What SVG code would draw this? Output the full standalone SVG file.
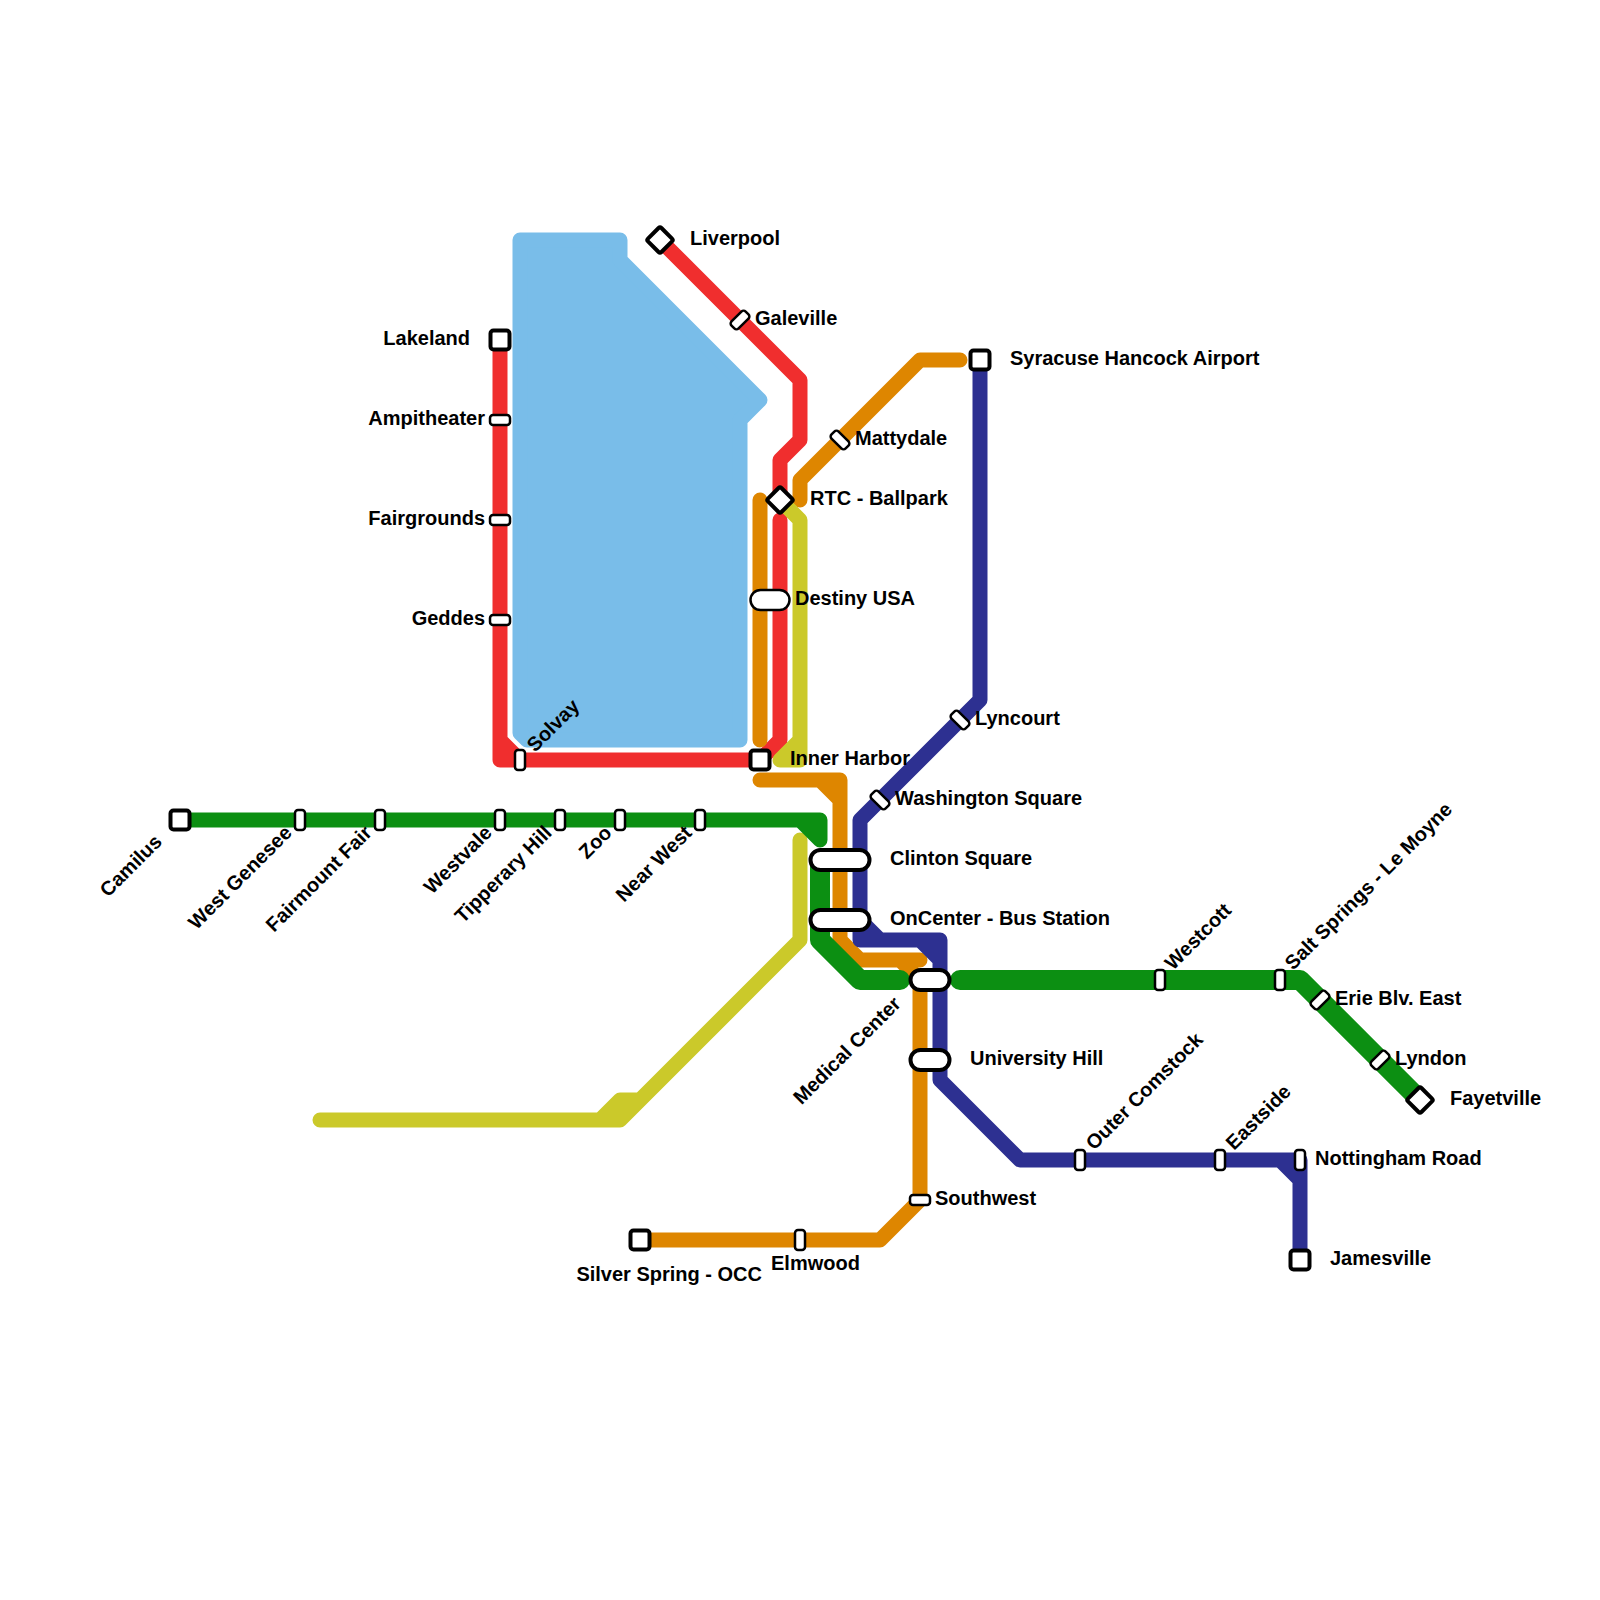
<svg xmlns="http://www.w3.org/2000/svg" width="1600" height="1600" viewBox="0 0 1600 1600">
<style>
.l{fill:none;stroke-width:15;stroke-linecap:round;stroke-linejoin:round}
.w{stroke-width:20}
.lake{fill:#79bde9;stroke:#79bde9}
.red{stroke:#f02e2e}.org{stroke:#de8600}.yel{stroke:#cbc92a}.grn{stroke:#0c8f12}.blu{stroke:#2d3091}
.t{fill:#fff;stroke:#000;stroke-width:2.5}
.s{fill:#fff;stroke:#000;stroke-width:4}
.p{fill:#fff;stroke:#000;stroke-width:2.5}
text{font-family:"Liberation Sans",Arial,sans-serif;font-weight:700;font-size:20px;fill:#000}
.e{text-anchor:end}
</style>
<rect width="1600" height="1600" fill="#fff"/>
<g id="connectors">
<path id="lake" class="l lake" d="M520 240H620V260L760 400L740 420V740H527L520 733Z"/>
<path class="l red" d="M500 340V760H760M500 740L520 760"/>
<path class="l red" d="M660 240L800 380V440L780 460V500M780 520V740L760 760"/>
<path class="l org" d="M760 500V740M760 780H840V940L860 960H920L900 960L920 980V1200L880 1240H640M820 780L840 800M800 500V480L920 360H960"/>
<path class="l yel" d="M780 500L800 520V740L780 760H800V740M800 840V940L620 1120H320M600 1120L620 1100H640L620 1120"/>
<path class="l grn" d="M180 820H820V840L800 820"/>
<path class="l w grn" d="M820 860V940L860 980H900M960 980H1300L1420 1100"/>
<path class="l blu" d="M980 360V700L860 820V940H940V1080L1020 1160H1300V1260M860 920L880 940M920 940L940 960M1280 1160L1300 1180"/>
</g>
<g id="n-camilus"><rect class="s" x="170.500" y="810.500" width="19" height="19" rx="3"/><text class="e" transform="translate(163 843) rotate(-45)">Camilus</text></g>
<g id="n-west-genesee"><rect class="t" x="295" y="810" width="10" height="20" rx="3"/><text class="e" transform="translate(293 834) rotate(-45)">West Genesee</text></g>
<g id="n-fairmount-fair"><rect class="t" x="375" y="810" width="10" height="20" rx="3"/><text class="e" transform="translate(373 834) rotate(-45)">Fairmount Fair</text></g>
<g id="n-westvale"><rect class="t" x="495" y="810" width="10" height="20" rx="3"/><text class="e" transform="translate(493 834) rotate(-45)">Westvale</text></g>
<g id="n-tipperary-hill"><rect class="t" x="555" y="810" width="10" height="20" rx="3"/><text class="e" transform="translate(553 834) rotate(-45)">Tipperary Hill</text></g>
<g id="n-zoo"><rect class="t" x="615" y="810" width="10" height="20" rx="3"/><text class="e" transform="translate(613 834) rotate(-45)">Zoo</text></g>
<g id="n-near-west"><rect class="t" x="695" y="810" width="10" height="20" rx="3"/><text class="e" transform="translate(693 834) rotate(-45)">Near West</text></g>
<g id="n-lakeland"><rect class="s" x="490.500" y="330.500" width="19" height="19" rx="3"/><text class="e" x="470" y="345">Lakeland</text></g>
<g id="n-ampitheater"><rect class="t" x="490" y="415" width="20" height="10" rx="3"/><text class="e" x="485" y="425">Ampitheater</text></g>
<g id="n-fairgrounds"><rect class="t" x="490" y="515" width="20" height="10" rx="3"/><text class="e" x="485" y="525">Fairgrounds</text></g>
<g id="n-geddes"><rect class="t" x="490" y="615" width="20" height="10" rx="3"/><text class="e" x="485" y="625">Geddes</text></g>
<g id="n-solvay"><rect class="t" x="515" y="750" width="10" height="20" rx="3"/><text transform="translate(535 753) rotate(-45)">Solvay</text></g>
<g id="n-liverpool"><rect class="s" x="650.500" y="230.500" width="19" height="19" rx="2" transform="rotate(45 660 240)"/><text x="690" y="245">Liverpool</text></g>
<g id="n-galeville"><rect class="t" x="735" y="310" width="10" height="20" rx="3" transform="rotate(45 740 320)"/><text x="755" y="325">Galeville</text></g>
<g id="n-mattydale"><rect class="t" x="835" y="430" width="10" height="20" rx="3" transform="rotate(-45 840 440)"/><text x="855" y="445">Mattydale</text></g>
<g id="n-rtc"><rect class="s" x="770.500" y="490.500" width="19" height="19" rx="2" transform="rotate(45 780 500)"/><text x="810" y="505">RTC - Ballpark</text></g>
<g id="n-destiny"><rect class="p" x="750.500" y="590" width="39" height="20" rx="10"/><text x="795" y="605">Destiny USA</text></g>
<g id="n-inner-harbor"><rect class="s" x="750.500" y="750.500" width="19" height="19" rx="3"/><text x="790" y="765">Inner Harbor</text></g>
<g id="n-washington"><rect class="t" x="875" y="790" width="10" height="20" rx="3" transform="rotate(-45 880 800)"/><text x="895" y="805">Washington Square</text></g>
<g id="n-lyncourt"><rect class="t" x="955" y="710" width="10" height="20" rx="3" transform="rotate(-45 960 720)"/><text x="975" y="725">Lyncourt</text></g>
<g id="n-syracuse"><rect class="s" x="970.500" y="350.500" width="19" height="19" rx="3"/><text x="1010" y="365">Syracuse Hancock Airport</text></g>
<g id="n-clinton"><rect class="s" x="810.500" y="850" width="59" height="20" rx="10"/><text x="890" y="865">Clinton Square</text></g>
<g id="n-oncenter"><rect class="s" x="810.500" y="910" width="59" height="20" rx="10"/><text x="890" y="925">OnCenter - Bus Station</text></g>
<g id="n-medical"><rect class="s" x="910.500" y="970" width="39" height="20" rx="10"/><text class="e" transform="translate(902 1005) rotate(-45)">Medical Center</text></g>
<g id="n-university"><rect class="s" x="910.500" y="1050" width="39" height="20" rx="10"/><text x="970" y="1065">University Hill</text></g>
<g id="n-southwest"><rect class="t" x="910" y="1195" width="20" height="10" rx="3"/><text x="935" y="1205">Southwest</text></g>
<g id="n-elmwood"><rect class="t" x="795" y="1230" width="10" height="20" rx="3"/><text x="771" y="1270">Elmwood</text></g>
<g id="n-silver"><rect class="s" x="630.500" y="1230.500" width="19" height="19" rx="3"/><text class="e" x="762" y="1281">Silver Spring - OCC</text></g>
<g id="n-westcott"><rect class="t" x="1155" y="970" width="10" height="20" rx="3"/><text transform="translate(1173 971) rotate(-45)">Westcott</text></g>
<g id="n-salt"><rect class="t" x="1275" y="970" width="10" height="20" rx="3"/><text transform="translate(1293 971) rotate(-45)">Salt Springs - Le Moyne</text></g>
<g id="n-erie"><rect class="t" x="1315" y="990" width="10" height="20" rx="3" transform="rotate(45 1320 1000)"/><text x="1335" y="1005">Erie Blv. East</text></g>
<g id="n-lyndon"><rect class="t" x="1375" y="1050" width="10" height="20" rx="3" transform="rotate(45 1380 1060)"/><text x="1395" y="1065">Lyndon</text></g>
<g id="n-fayetteville"><rect class="s" x="1410.500" y="1090.500" width="19" height="19" rx="2" transform="rotate(45 1420 1100)"/><text x="1450" y="1105">Fayetville</text></g>
<g id="n-outer"><rect class="t" x="1075" y="1150" width="10" height="20" rx="3"/><text transform="translate(1094 1151) rotate(-45)">Outer Comstock</text></g>
<g id="n-eastside"><rect class="t" x="1215" y="1150" width="10" height="20" rx="3"/><text transform="translate(1234 1151) rotate(-45)">Eastside</text></g>
<g id="n-nottingham"><rect class="t" x="1295" y="1150" width="10" height="20" rx="3"/><text x="1315" y="1165">Nottingham Road</text></g>
<g id="n-jamesville"><rect class="s" x="1290.500" y="1250.500" width="19" height="19" rx="3"/><text x="1330" y="1265">Jamesville</text></g>
</svg>
